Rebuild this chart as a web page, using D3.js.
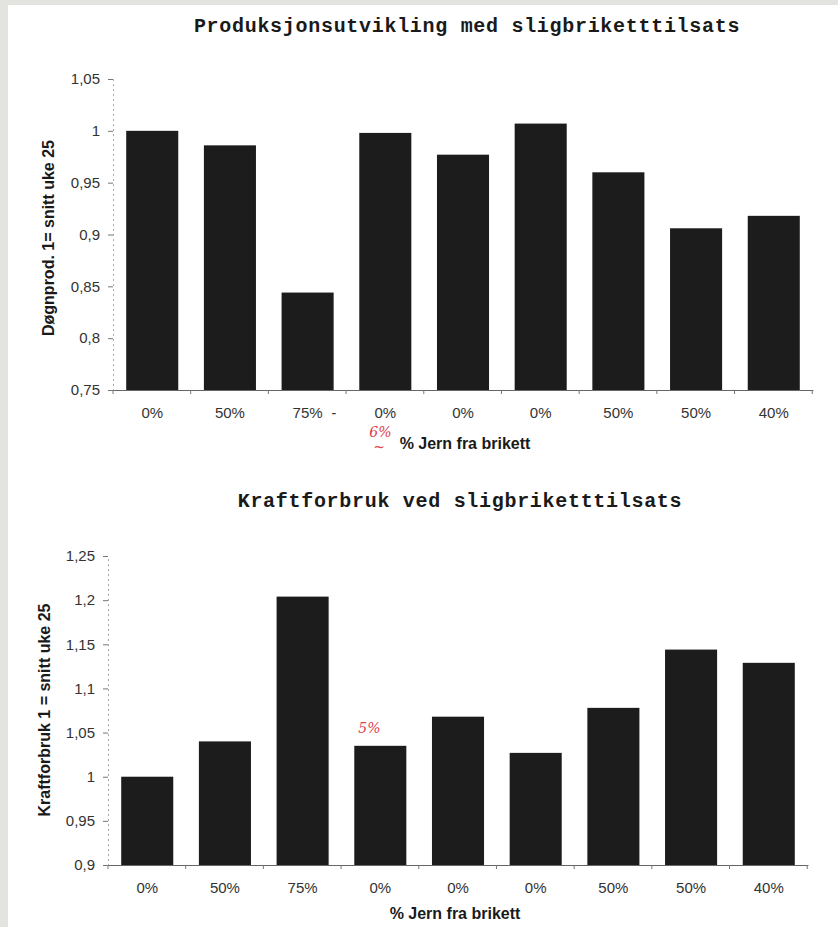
<!DOCTYPE html>
<html lang="no">
<head>
  <meta charset="UTF-8">
  <title>Sligbriketttilsats</title>
  <script src="https://d3js.org/d3.v7.min.js"></script>
  <style>
    body { margin: 0; background: #e3e3df; }
    svg { display: block; }
    .title { font-family: "Liberation Mono", "DejaVu Sans Mono", monospace; font-weight: bold; font-size: 20px; letter-spacing: 0.7px; fill: #1a1a1a; }
    .tick text { font-family: "Liberation Sans", Arial, sans-serif; font-size: 15px; fill: #333; }
    .axis-title { font-family: "Liberation Sans", Arial, sans-serif; font-weight: bold; font-size: 16px; fill: #1a1a1a; }
    .note { font-family: "DejaVu Serif", serif; font-style: italic; font-size: 14px; fill: #e0404a; }
  </style>
</head>
<body>
<svg id="chart" width="838" height="927"></svg>
<script>
  const categories = ["0%", "50%", "75%", "0%", "0%", "0%", "50%", "50%", "40%"];
  const prodValues = [1.0, 0.986, 0.844, 0.998, 0.977, 1.007, 0.960, 0.906, 0.918];
  const kraftValues = [1.0, 1.040, 1.204, 1.035, 1.068, 1.027, 1.078, 1.144, 1.129];
  const prodTicks = [0.75, 0.8, 0.85, 0.9, 0.95, 1, 1.05];
  const kraftTicks = [0.9, 0.95, 1, 1.05, 1.1, 1.15, 1.2, 1.25];

  const svg = d3.select("#chart");
  svg.append("rect").attr("x", 8).attr("y", 5).attr("width", 830).attr("height", 922).attr("fill", "#ffffff");

  const tickFmt = v => v === 1 ? "1" : d3.format(".2~f")(v).replace(".", ",");

  function drawChart(opt) {
    const x = d3.scaleBand()
      .domain(d3.range(categories.length))
      .range([opt.left, opt.right])
      .paddingInner(0.33)
      .paddingOuter(0.17);

    const y = d3.scaleLinear()
      .domain([opt.ticks[0], opt.ticks[opt.ticks.length - 1]])
      .range([opt.bottom, opt.top]);

    const g = svg.append("g");

    g.append("text").attr("class", "title")
      .attr("x", opt.titleX).attr("y", opt.titleY)
      .attr("text-anchor", "middle").text(opt.title);

    // y axis
    const yAxis = g.append("g")
      .attr("transform", `translate(${opt.left},0)`)
      .call(d3.axisLeft(y).tickValues(opt.ticks).tickSize(5).tickPadding(8).tickFormat(tickFmt));
    yAxis.select(".domain").attr("stroke", "#aaa").attr("stroke-dasharray", "2,3");
    yAxis.selectAll(".tick line").attr("stroke", "#777");

    // bars
    g.selectAll(".bar").data(opt.values).enter().append("rect")
      .attr("x", (d, i) => x(i))
      .attr("y", d => y(d))
      .attr("width", x.bandwidth())
      .attr("height", d => y(opt.ticks[0]) - y(d))
      .attr("fill", "#1c1c1c");

    // x axis
    const xAxis = g.append("g")
      .attr("transform", `translate(0,${opt.bottom})`)
      .call(d3.axisBottom(x).tickSize(0).tickPadding(17).tickFormat(i => categories[i]));
    xAxis.select(".domain").attr("stroke", "#666");
    const step = x.step();
    g.selectAll(".minor").data(d3.range(categories.length + 1)).enter().append("line")
      .attr("x1", i => opt.left + i * step).attr("x2", i => opt.left + i * step)
      .attr("y1", opt.bottom).attr("y2", opt.bottom + 4)
      .attr("stroke", "#777");

    g.append("text").attr("class", "axis-title")
      .attr("x", opt.xTitleX).attr("y", opt.xTitleY)
      .attr("text-anchor", "middle").text("% Jern fra brikett");

    g.append("text").attr("class", "axis-title")
      .attr("transform", `translate(${opt.yTitleX},${opt.yTitleY}) rotate(-90)`)
      .attr("text-anchor", "middle").text(opt.yTitle);

    return { x, y };
  }

  const prodChart = drawChart({
    values: prodValues, ticks: prodTicks,
    left: 113, right: 813, top: 79, bottom: 390,
    title: "Produksjonsutvikling med sligbriketttilsats", titleX: 467, titleY: 32,
    xTitleX: 465, xTitleY: 449,
    yTitle: "Døgnprod. 1= snitt uke 25", yTitleX: 54, yTitleY: 238
  });

  const kraftChart = drawChart({
    values: kraftValues, ticks: kraftTicks,
    left: 108, right: 808, top: 556, bottom: 865,
    title: "Kraftforbruk ved sligbriketttilsats", titleX: 460, titleY: 507,
    xTitleX: 455, xTitleY: 919,
    yTitle: "Kraftforbruk 1 = snitt uke 25", yTitleX: 50, yTitleY: 710
  });

  // handwritten notes and scan marks
  svg.append("text").attr("class", "note").attr("x", prodChart.x(3) + 10).attr("y", 437).text("6%");
  svg.append("text").attr("class", "note").attr("x", prodChart.x(3) + 14).attr("y", 452).text("~");
  svg.append("text").attr("class", "note").style("fill", "#333").attr("x", prodChart.x(2) + 50).attr("y", 418).text("-");
  svg.append("text").attr("class", "note").attr("x", kraftChart.x(3) + 4).attr("y", 733).text("5%");
</script>
</body>
</html>
